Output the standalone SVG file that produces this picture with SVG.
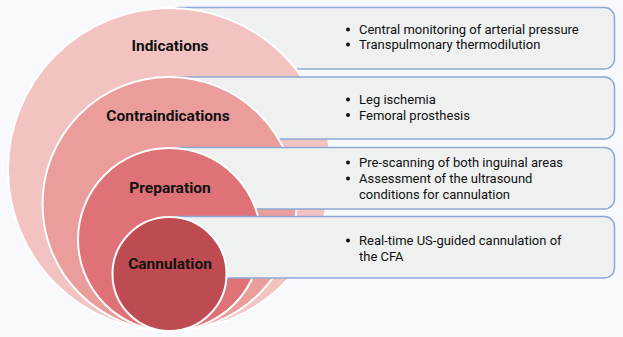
<svg xmlns="http://www.w3.org/2000/svg" width="623" height="337" viewBox="0 0 623 337">
<style>
.box{fill:#EFF0F0;stroke:#8EA8D6;stroke-width:1.5}
.c{stroke:#FFFFFF;stroke-width:2}
.lbl{font-family:Roboto,"Liberation Sans",sans-serif;font-weight:bold;font-size:15.5px;fill:#111111;text-anchor:middle}
.t{font-family:Roboto,"Liberation Sans",sans-serif;font-size:13px;fill:#111111}
.dot{fill:#111111}
</style>
<rect width="623" height="337" fill="#F7F9FC"/>
<g id="connectors"></g>
<g id="box-indications">
<rect class="box" x="169.5" y="7.5" width="445" height="61.5" rx="10"/>
<circle class="dot" cx="348" cy="29.5" r="2"/>
<circle class="dot" cx="348" cy="44.5" r="2"/>
<text class="t" x="359" y="34">Central monitoring of arterial pressure</text>
<text class="t" x="359" y="49">Transpulmonary thermodilution</text>
</g>
<g id="node-indications">
<circle class="c" cx="169.5" cy="169.5" r="161.5" fill="#F2C3C1"/>
<text class="lbl" x="170" y="51">Indications</text>
</g>
<g id="box-contraindications">
<rect class="box" x="169.5" y="77" width="445" height="62" rx="10"/>
<circle class="dot" cx="348" cy="99.5" r="2"/>
<circle class="dot" cx="348" cy="115" r="2"/>
<text class="t" x="359" y="104">Leg ischemia</text>
<text class="t" x="359" y="119.5">Femoral prosthesis</text>
</g>
<g id="node-contraindications">
<circle class="c" cx="169.5" cy="204" r="127" fill="#EB9D9C"/>
<text class="lbl" x="168" y="121">Contraindications</text>
</g>
<g id="box-preparation">
<rect class="box" x="169.5" y="147.5" width="445" height="61.5" rx="10"/>
<circle class="dot" cx="348" cy="162.5" r="2"/>
<circle class="dot" cx="348" cy="178.5" r="2"/>
<text class="t" x="359" y="167">Pre-scanning of both inguinal areas</text>
<text class="t" x="359" y="183">Assessment of the ultrasound</text>
<text class="t" x="359" y="198.5">conditions for cannulation</text>
</g>
<g id="node-preparation">
<circle class="c" cx="169.5" cy="239.5" r="91.5" fill="#DF7276"/>
<text class="lbl" x="170" y="193">Preparation</text>
</g>
<g id="box-cannulation">
<rect class="box" x="169.5" y="216.5" width="445" height="61.5" rx="10"/>
<circle class="dot" cx="348" cy="240.5" r="2"/>
<text class="t" x="359" y="245">Real-time US-guided cannulation of</text>
<text class="t" x="359" y="260.5">the CFA</text>
</g>
<g id="node-cannulation">
<circle class="c" cx="169.5" cy="274" r="57" fill="#BE4B51"/>
<text class="lbl" x="170" y="269">Cannulation</text>
</g>
</svg>
